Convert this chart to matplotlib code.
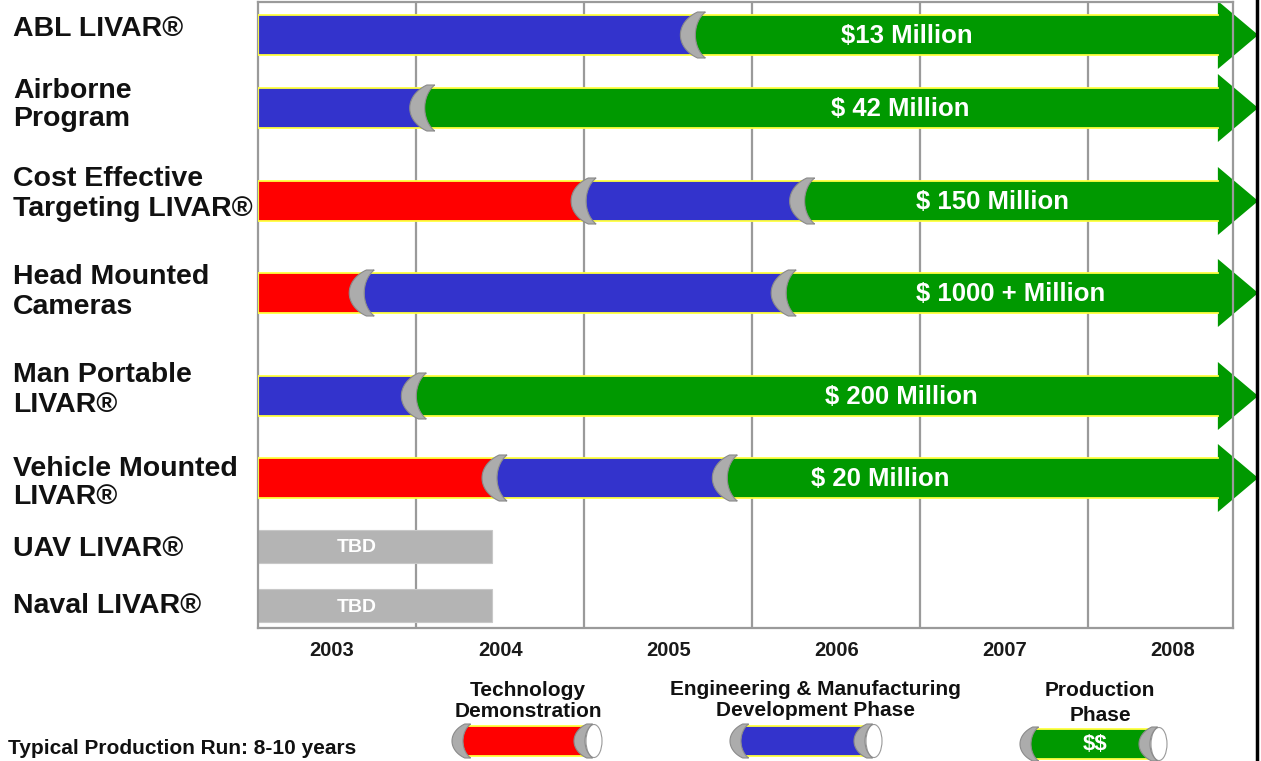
import numpy as np
import matplotlib.pyplot as plt
from matplotlib.patches import Polygon, Rectangle, Ellipse

# ---- data ----
programs = ["ABL LIVAR®", "Airborne\nProgram", "Cost Effective\nTargeting LIVAR®",
            "Head Mounted\nCameras", "Man Portable\nLIVAR®", "Vehicle Mounted\nLIVAR®",
            "UAV LIVAR®", "Naval LIVAR®"]
years = [2003, 2004, 2005, 2006, 2007, 2008]
start_year = 2002.56
tech_end = [np.nan, np.nan, 2004.50, 2003.18, np.nan, 2003.97, np.nan, np.nan]
emd_end = [2005.15, 2003.54, 2005.80, 2005.69, 2003.49, 2005.34, np.nan, np.nan]
tbd_end = [np.nan, np.nan, np.nan, np.nan, np.nan, np.nan, 2003.95, 2003.95]
arrow_head, arrow_tip = 2008.27, 2008.51
value_labels = ["\\$13 Million", "\\$ 42 Million", "\\$ 150 Million", "\\$ 1000 + Million",
                "\\$ 200 Million", "\\$ 20 Million", "TBD", "TBD"]
value_x = [2006.42, 2006.38, 2006.93, 2007.04, 2006.39, 2006.26, 2003.15, 2003.15]

legend_titles = ["Technology\nDemonstration", "Engineering & Manufacturing\nDevelopment Phase",
                 "Production\nPhase"]

# ---- layout (pixels from top) ----
row_y = [35, 108, 201, 293, 396, 478, 546, 605]
label_y = [29, 105, 194, 292, 390, 483, 549, 606]

RED, BLUE, GREEN = "#ff0000", "#3333cc", "#009900"
GRAY, GRAYEDGE, YELLOW = "#acacac", "#8a8a8a", "#ffff40"

plt.rcParams['font.family'] = ['Liberation Sans', 'DejaVu Sans']
plt.rcParams['font.weight'] = 'bold'

W, H = 1261, 761
fig = plt.figure(figsize=(W / 100, H / 100), dpi=100)
ax = fig.add_axes([258 / W, 1 - 628 / H, 975 / W, 626 / H])
x1 = 2008.36
ax.set_xlim(start_year, x1)
ax.set_ylim(628, 2)
sx = (x1 - start_year) / 975.0   # years per pixel

# crescent shapes (pixel sizes): main bars and legend
MAIN = dict(half=23, ext=27, wo=36, wi=21, tip=23)
LEG = dict(half=17, ext=20, wo=27, wi=16, tip=17)


def arc(xt, yc, w, half, ext, tip, s_x, side=-1, n=50):
    t = np.linspace(-half, half, n)
    s = np.sqrt(1 - (t / ext) ** 2)
    return xt + (tip + side * w * s) * s_x, yc + t


def crescent(a, xt, yc, s_x, half, ext, wo, wi, tip, z=4):
    xo, yo = arc(xt, yc, wo, half, ext, tip, s_x)
    xi, yi = arc(xt, yc, wi, half, ext, tip, s_x)
    pts = np.column_stack([np.r_[xo, xi[::-1]], np.r_[yo, yi[::-1]]])
    a.add_patch(Polygon(pts, closed=True, fc=GRAY, ec=GRAYEDGE, lw=0.8, zorder=z,
                        clip_on=False))


def segment(a, left, right, yc, bh, color, s_x, shape, arrow=False, z=2):
    if left is None:
        xl, yl = np.array([start_year, start_year]), np.array([yc - bh, yc + bh])
    else:
        xl, yl = arc(left, yc, shape['wi'], bh, shape['ext'], shape['tip'], s_x)
    if arrow:
        hh = 34
        xr = [arrow_head, arrow_head, arrow_tip, arrow_head, arrow_head]
        yr = [yc + bh, yc + hh, yc, yc - hh, yc - bh]
    else:
        xr = [right, right]
        yr = [yc + bh, yc - bh]
    pts = np.column_stack([np.r_[xl, xr], np.r_[yl, yr]])
    a.add_patch(Polygon(pts, closed=True, fc=color, ec='none', zorder=z, clip_on=False))


# grid
for yv in years[:-1]:
    ax.axvline(yv + 0.5, color="#9a9a9a", lw=1.6, zorder=1)
for sp in ax.spines.values():
    sp.set_color("#9a9a9a")
    sp.set_linewidth(1.6)
ax.set_yticks([])
ax.set_xticks(years)
ax.set_xticklabels([str(y) for y in years], fontsize=14.5, fontweight='bold', color="#1a1a1a")
ax.tick_params(axis='x', length=0, pad=9)

bh = 20
for i in range(len(programs)):
    yc = row_y[i]
    if not np.isnan(tbd_end[i]):
        ax.add_patch(Rectangle((start_year, yc - 16.5), tbd_end[i] - start_year, 33,
                               fc="#b4b4b4", ec="#c8c8c8", lw=0.8, zorder=2))
        ax.text(value_x[i], yc + 2, value_labels[i], color="white", fontsize=14,
                fontweight='bold', ha='center', va='center', zorder=5)
        continue
    bounds, colors = [], []
    if not np.isnan(tech_end[i]):
        colors.append(RED)
        bounds.append(tech_end[i])
    colors.append(BLUE)
    bounds.append(emd_end[i])
    colors.append(GREEN)
    lefts = [None] + bounds
    rights = bounds + [None]
    for k, c in enumerate(colors):
        segment(ax, lefts[k], rights[k], yc, bh, c, sx, MAIN, arrow=(k == len(colors) - 1))
    # yellow outline of the bar body
    ax.plot([arrow_head, start_year, start_year, arrow_head],
            [yc - bh, yc - bh, yc + bh, yc + bh], color=YELLOW, lw=1.3, zorder=3,
            solid_joinstyle='miter')
    for b in bounds:
        crescent(ax, b, yc, sx, **MAIN)
    ax.text(value_x[i], yc + 1, value_labels[i], color="white", fontsize=18.5,
            fontweight='bold', ha='center', va='center', zorder=5)

# ---- overlay in pixel units: row names and legend ----
lg = fig.add_axes([0, 0, 1, 1])
lg.set_xlim(0, W)
lg.set_ylim(H, 0)
lg.axis('off')

for name, yl in zip(programs, label_y):
    lg.text(13, yl, name, fontsize=20.5, fontweight='bold', ha='left', va='center',
            linespacing=1.15, color="#111111")

lg.text(8, 748, "Typical Production Run: 8-10 years", fontsize=15, fontweight='bold',
        ha='left', va='center', color="#111111")

cap_pos = [(462, 584, 741), (740, 864, 741), (1030, 1149, 744)]
cap_colors = [RED, BLUE, GREEN]
title_pos = [(528, 701, 1.12), (815, 700, 1.12), (1100, 703, 1.4)]
for (xl, xr, yc), c, title, (tx, ty, ls) in zip(cap_pos, cap_colors, legend_titles, title_pos):
    lbh = 15
    segment(lg, xl, xr, yc, lbh, c, 1.0, LEG)
    lg.plot([xl + 6, xr], [yc - lbh, yc - lbh], color=YELLOW, lw=1.3, zorder=3)
    lg.plot([xl + 6, xr], [yc + lbh, yc + lbh], color=YELLOW, lw=1.3, zorder=3)
    # white end cap of the cylinder
    lg.add_patch(Ellipse((xr + 10, yc), 16, 33, fc="white", ec="#999999", lw=0.8, zorder=3))
    crescent(lg, xl, yc, 1.0, **LEG)
    crescent(lg, xr, yc, 1.0, **LEG)
    lg.text(tx, ty, title, fontsize=15, fontweight='bold', ha='center', va='center',
            linespacing=ls, color="#111111", zorder=6)
lg.text(1095, 745, "\\$\\$", color="white", fontsize=16, fontweight='bold',
        ha='center', va='center', zorder=6)

# dark right border of the original image
lg.plot([1257, 1257], [0, H], color="black", lw=2.5, zorder=0)

fig.savefig("out.png", dpi=100)
